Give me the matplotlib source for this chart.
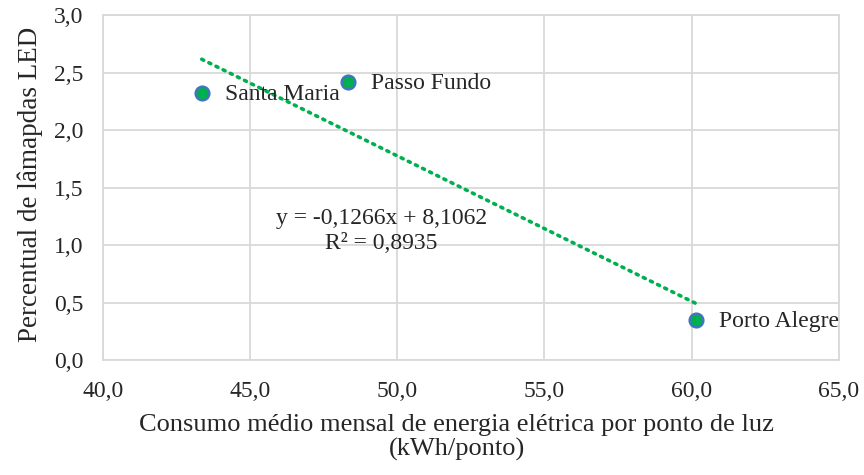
import matplotlib
matplotlib.use("Agg")
import matplotlib.pyplot as plt

plt.rcParams['font.family'] = ['Liberation Serif', 'DejaVu Serif']

# Data
cities = ["Santa Maria", "Passo Fundo", "Porto Alegre"]
consumo = [43.36, 48.33, 60.14]          # kWh/ponto
percentual_led = [2.32, 2.416, 0.347]    # %

# Linear trendline
slope = -0.1266
intercept = 8.1062
r2 = 0.8935

x_ticks = [40, 45, 50, 55, 60, 65]
x_tick_labels = ["40,0", "45,0", "50,0", "55,0", "60,0", "65,0"]
y_ticks = [0, 0.5, 1.0, 1.5, 2.0, 2.5, 3.0]
y_tick_labels = ["0,0", "0,5", "1,0", "1,5", "2,0", "2,5", "3,0"]

green = "#00b050"
blue = "#4472c4"
grid_gray = "#d9d9d9"
text_color = "#262626"
fs = 17
fs_title = 19

fig = plt.figure(figsize=(8.64, 4.75), dpi=100)
ax = fig.add_axes([0.119, 0.242, 0.852, 0.726])

# trendline across the data range
x0, x1 = min(consumo), max(consumo)
ax.plot([x0, x1], [slope * x0 + intercept, slope * x1 + intercept],
        color=green, lw=2.6, linestyle=(0, (0.6, 1.6)),
        dash_capstyle='round', zorder=2)

ax.plot(consumo, percentual_led, linestyle='none', marker='o',
        markersize=10, markerfacecolor=green, markeredgecolor=blue,
        markeredgewidth=1.6, zorder=3)

for name, xv, yv in zip(cities, consumo, percentual_led):
    ax.annotate(name, (xv, yv), xytext=(23, -1), textcoords='offset pixels',
                ha='left', va='center', fontsize=fs, color=text_color, zorder=4)

r2_text = f"{r2:.4f}".replace('.', ',')
ax.text(49.45, 1.12, f"y = -0,1266x + 8,1062\nR² = {r2_text}",
        ha='center', va='center', fontsize=fs, color=text_color,
        linespacing=1.25)

ax.set_xlim(40, 65)
ax.set_ylim(0, 3.0)
ax.set_xticks(x_ticks)
ax.set_xticklabels(x_tick_labels)
ax.set_yticks(y_ticks)
ax.set_yticklabels(y_tick_labels)
ax.tick_params(axis='both', length=0, labelsize=fs, colors=text_color)
ax.tick_params(axis='x', pad=15)
ax.tick_params(axis='y', pad=14)

ax.grid(True, color=grid_gray, linewidth=1.3)
ax.set_axisbelow(True)
for sp in ax.spines.values():
    sp.set_color(grid_gray)
    sp.set_linewidth(1.3)

ax.set_xlabel("Consumo médio mensal de energia elétrica por ponto de luz\n(kWh/ponto)",
              fontsize=fs_title, color=text_color, labelpad=9, linespacing=1.1)
ax.set_ylabel("Percentual de lâmapdas LED", fontsize=19.5, color=text_color,
              labelpad=8)
ax.xaxis.label.set_x(0.481)
ax.yaxis.label.set_y(0.51)

fig.savefig("out.png", dpi=100)
